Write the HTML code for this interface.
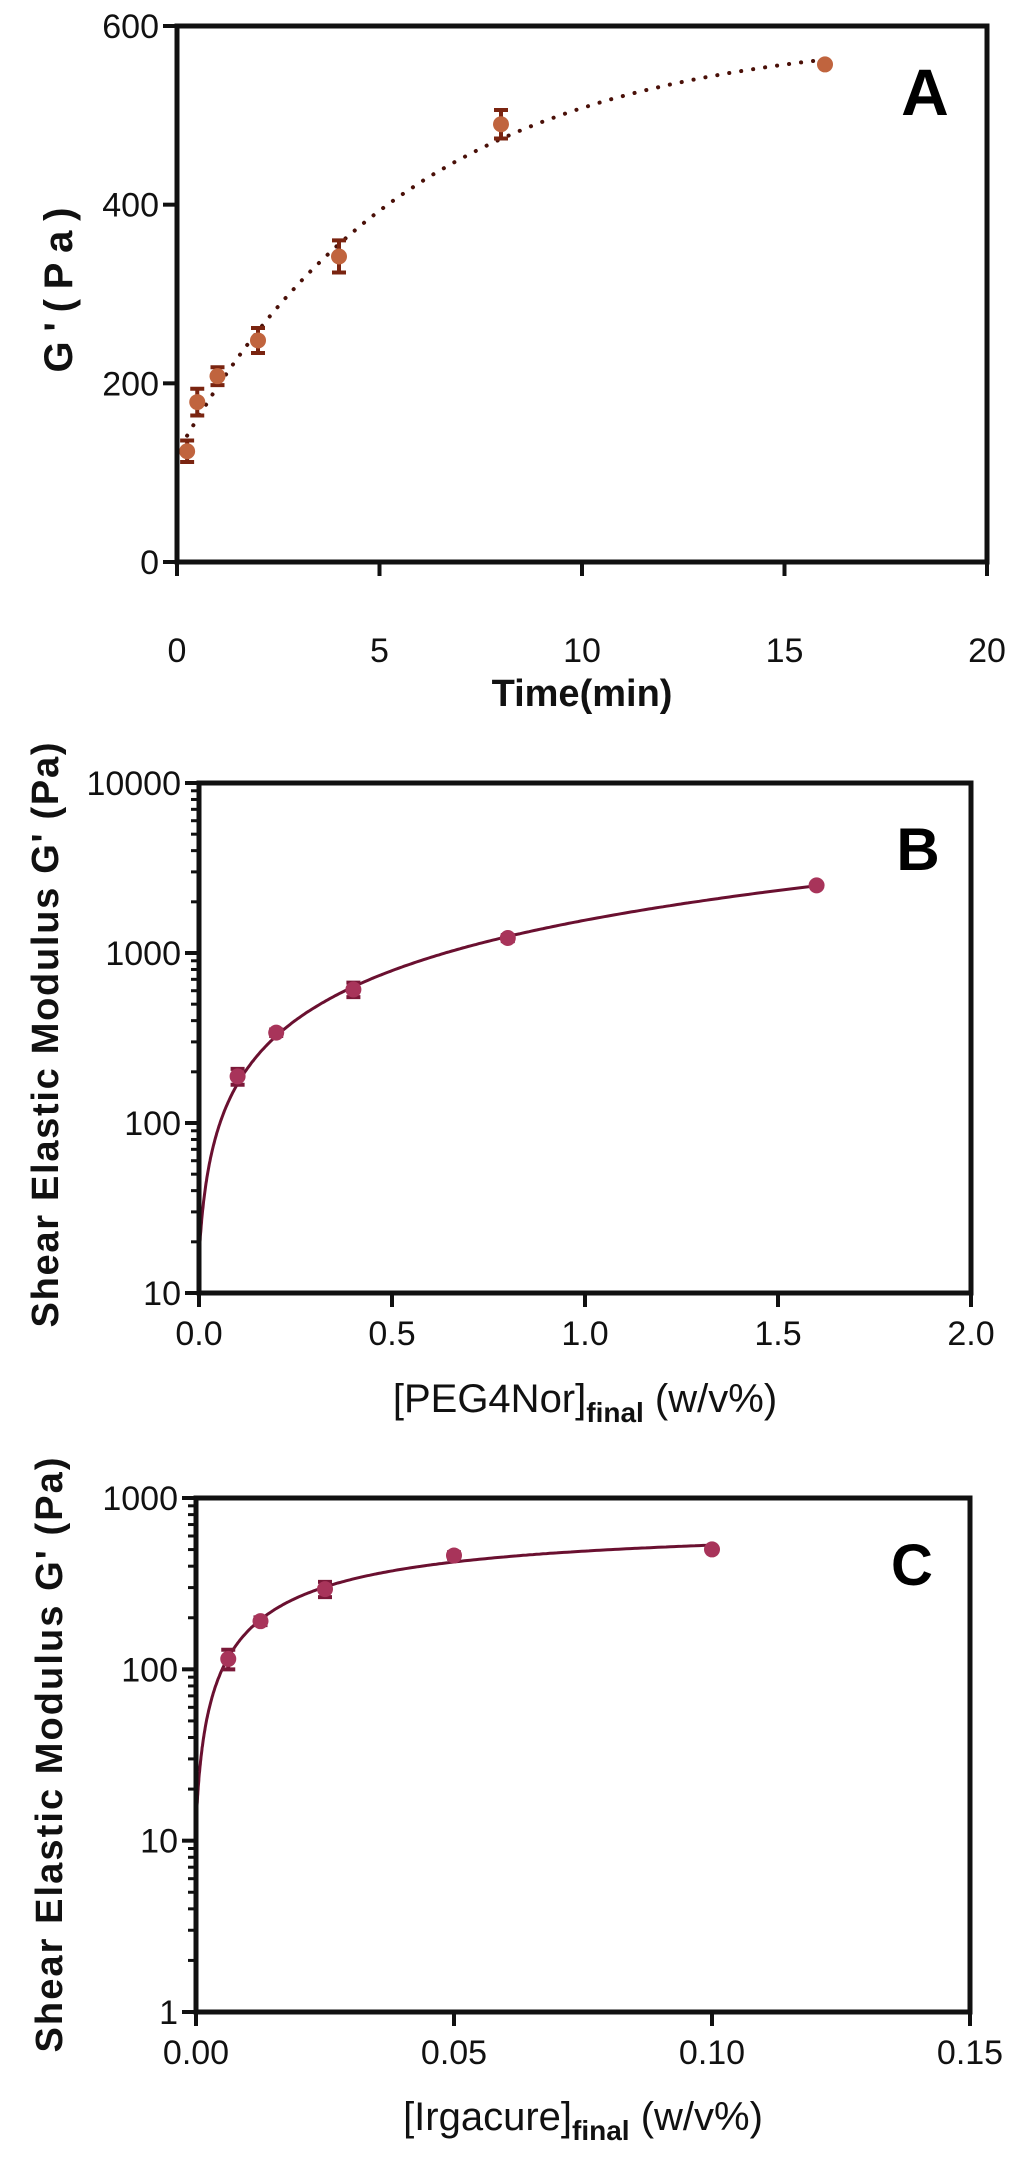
<!DOCTYPE html>
<html><head><meta charset="utf-8"><style>
html,body{margin:0;padding:0;background:#fff;}
svg{display:block;font-family:"Liberation Sans",Arial,sans-serif;}
</style></head><body>
<svg id="fig" width="1024" height="2158" viewBox="0 0 1024 2158" xmlns="http://www.w3.org/2000/svg"></svg>
<script>
// Panel A data
const aTimes = [0.25, 0.5, 1, 2, 4, 8, 16];
const aValues = [124, 179, 208, 248, 342, 490, 557];
const aErrors = [12, 15, 10, 14, 18, 16, 0];
const aXTicks = [0, 5, 10, 15, 20];
const aYTicks = [0, 200, 400, 600];
// Panel B data
const bConc = [0.1, 0.2, 0.4, 0.8, 1.6];
const bValues = [188, 340, 610, 1225, 2500];
const bErrors = [20, 15, 60, 50, 0];
const bXTicks = [0, 0.5, 1.0, 1.5, 2.0];
const bXLabels = ["0.0", "0.5", "1.0", "1.5", "2.0"];
const bYTicks = [10, 100, 1000, 10000];
// Panel C data
const cConc = [0.00625, 0.0125, 0.025, 0.05, 0.1];
const cValues = [115, 191, 294, 462, 501];
const cErrors = [15, 10, 30, 20, 0];
const cXTicks = [0, 0.05, 0.10, 0.15];
const cXLabels = ["0.00", "0.05", "0.10", "0.15"];
const cYTicks = [1, 10, 100, 1000];

const NS = "http://www.w3.org/2000/svg";
const svg = document.getElementById("fig");
function mk(tag, attrs, parent) {
  const e = document.createElementNS(NS, tag);
  for (const k in attrs) e.setAttribute(k, attrs[k]);
  (parent || svg).appendChild(e);
  return e;
}
function linScale(d0, d1, r0, r1) { return v => r0 + (v - d0) / (d1 - d0) * (r1 - r0); }
function logScale(d0, d1, r0, r1) { return v => r0 + (Math.log10(v) - Math.log10(d0)) / (Math.log10(d1) - Math.log10(d0)) * (r1 - r0); }

function frame(g, L, R, T, B, name) {
  const r = mk("rect", {x: L, y: T, width: R - L, height: B - T, fill: "none", stroke: "#111", "stroke-width": 5}, g);
  
  
}
function xTicks(g, vals, labels, sx, B, name, off) {
  vals.forEach((v, i) => {
    const x = sx(v);
    const t = mk("line", {x1: x, x2: x, y1: B, y2: B + 14, stroke: "#111", "stroke-width": 4}, g);
    
    
    const tx = mk("text", {x: x, y: B + off, "font-size": 34, "text-anchor": "middle", fill: "#111"}, g);
    tx.textContent = labels[i];
    
    
  });
}
function yTicks(g, vals, labels, sy, L, name, isLog) {
  vals.forEach((v, i) => {
    const y = sy(v);
    const t = mk("line", {x1: L - 14, x2: L, y1: y, y2: y, stroke: "#111", "stroke-width": 4}, g);
    
    
    const tx = mk("text", {x: L - 18, y: y + 12, "font-size": 34, "text-anchor": "end", fill: "#111"}, g);
    tx.textContent = labels[i];
    
    
    if (isLog && i < vals.length - 1) {
      for (let m = 2; m <= 9; m++) {
        const ym = sy(v * m);
        const mt = mk("line", {x1: L - 8, x2: L, y1: ym, y2: ym, stroke: "#111", "stroke-width": 3}, g);
        
        
      }
    }
  });
}
function points(g, xs, ys, es, sx, sy, fill, ecol, name) {
  xs.forEach((xv, i) => {
    const x = sx(xv), y = sy(ys[i]);
    if (es[i] > 0) {
      const y1 = sy(ys[i] + es[i]), y2 = sy(Math.max(ys[i] - es[i], 0.001));
      const eb = mk("path", {d: `M${x-7},${y1}H${x+7}M${x},${y1}V${y2}M${x-7},${y2}H${x+7}`, stroke: ecol, "stroke-width": 4, fill: "none"}, g);
      
      
    }
    const c = mk("circle", {cx: x, cy: y, r: 8, fill: fill}, g);
    
    
  });
}
function rotTitle(g, x, y, text, size, len, name) {
  const t = mk("text", {x: 0, y: 0, transform: `translate(${x},${y}) rotate(-90)`, "font-size": size, "font-weight": "bold", "text-anchor": "middle", fill: "#111", textLength: len, lengthAdjust: "spacing"}, g);
  t.textContent = text;
  
  
}

// ===== Panel A =====
(function(){
  const L = 177, R = 987, T = 26, B = 562;
  const g = mk("g", {});
  
  
  const sx = linScale(0, 20, L, R), sy = linScale(0, 600, B, T);
  let best = null;
  for (let k = 0.01; k < 1.5; k += 0.002) {
    const f = aTimes.map(t => 1 - Math.exp(-k * t));
    const n = f.length, sf = f.reduce((a,b)=>a+b,0), sy_ = aValues.reduce((a,b)=>a+b,0);
    const sff = f.reduce((a,b)=>a+b*b,0), sfy = f.reduce((a,b,i)=>a+b*aValues[i],0);
    const den = n*sff - sf*sf; if (Math.abs(den) < 1e-9) continue;
    const b = (n*sfy - sf*sy_)/den, a = (sy_ - b*sf)/n;
    const sse = f.reduce((acc,fv,i)=>acc+Math.pow(a+b*fv-aValues[i],2),0);
    if (!best || sse < best.sse) best = {k, a, b, sse};
  }
  let d = "";
  const t0 = aTimes[0], t1 = aTimes[aTimes.length-1];
  for (let i = 0; i <= 200; i++) {
    const t = t0 + (t1 - t0) * i / 200;
    const v = best.a + best.b * (1 - Math.exp(-best.k * t));
    d += (i ? "L" : "M") + sx(t).toFixed(1) + "," + sy(v).toFixed(1);
  }
  const fit = mk("path", {d, fill: "none", stroke: "#4a1008", "stroke-width": 4, "stroke-linecap": "round", "stroke-dasharray": "0.1 12"}, g);
  
  
  points(g, aTimes, aValues, aErrors, sx, sy, "#c0643e", "#7a2410", "panel-a");
  frame(g, L, R, T, B, "panel-a");
  xTicks(g, aXTicks, aXTicks.map(String), sx, B, "panel-a", 100);
  yTicks(g, aYTicks, aYTicks.map(String), sy, L, "panel-a", false);
  const xl = mk("text", {x: (L+R)/2, y: 706, "font-size": 38, "font-weight": "bold", "text-anchor": "middle", fill: "#111"}, g);
  xl.textContent = "Time(min)";
  
  
  rotTitle(g, 72, 290, "G'(Pa)", 40, 165, "panel-a-y-axis-title");
  const pl = mk("text", {x: 925, y: 115, "font-size": 66, "font-weight": "bold", "text-anchor": "middle", fill: "#000"}, g);
  pl.textContent = "A";
  
  
})();

// ===== Panel B =====
(function(){
  const L = 199, R = 971, T = 783, B = 1293;
  const g = mk("g", {});
  
  
  const sx = linScale(0, 2, L, R), sy = logScale(10, 10000, B, T);
  const n = bConc.length;
  const mx = bConc.reduce((a,b)=>a+b,0)/n, my = bValues.reduce((a,b)=>a+b,0)/n;
  const m = bConc.reduce((a,x,i)=>a+(x-mx)*(bValues[i]-my),0)/bConc.reduce((a,x)=>a+(x-mx)*(x-mx),0);
  const c = Math.max(my - m*mx, 10.5);
  let d = "";
  const x1 = bConc[n-1];
  for (let i = 0; i <= 300; i++) {
    const x = x1 * Math.pow(i/300, 2);
    const v = Math.max(c + m * x, 10);
    d += (i ? "L" : "M") + sx(x).toFixed(1) + "," + sy(v).toFixed(1);
  }
  const fit = mk("path", {d, fill: "none", stroke: "#6a1030", "stroke-width": 3}, g);
  
  
  points(g, bConc, bValues, bErrors, sx, sy, "#a8345a", "#7a1838", "panel-b");
  frame(g, L, R, T, B, "panel-b");
  xTicks(g, bXTicks, bXLabels, sx, B, "panel-b", 52);
  yTicks(g, bYTicks, bYTicks.map(String), sy, L, "panel-b", true);
  const xl = mk("text", {x: (L+R)/2, y: 1412, "font-size": 40, "text-anchor": "middle", fill: "#111"}, g);
  xl.innerHTML = '[PEG4Nor]<tspan font-size="28" font-weight="bold" dy="10">final</tspan><tspan dy="-10"> (w/v%)</tspan>';
  
  
  rotTitle(g, 58, 1035, "Shear Elastic Modulus G' (Pa)", 38, 585, "panel-b-y-axis-title");
  const pl = mk("text", {x: 918, y: 870, "font-size": 60, "font-weight": "bold", "text-anchor": "middle", fill: "#000"}, g);
  pl.textContent = "B";
  
  
})();

// ===== Panel C =====
(function(){
  const L = 196, R = 970, T = 1498, B = 2012;
  const g = mk("g", {});
  
  
  const sx = linScale(0, 0.15, L, R), sy = logScale(1, 1000, B, T);
  let best = null;
  for (let K = 0.001; K < 0.2; K += 0.0005) {
    const f = cConc.map(x => x/(K+x));
    const gm = f.reduce((a,fv,i)=>a+fv*(cValues[i]-10),0)/f.reduce((a,fv)=>a+fv*fv,0);
    const sse = f.reduce((a,fv,i)=>a+Math.pow(Math.log(10+gm*fv)-Math.log(cValues[i]),2),0);
    if (!best || sse < best.sse) best = {K, gm, sse};
  }
  let d = "";
  const x1 = cConc[cConc.length-1];
  for (let i = 0; i <= 300; i++) {
    const x = x1 * Math.pow(i/300, 2.5);
    const v = 12 + best.gm * x/(best.K + x);
    d += (i ? "L" : "M") + sx(x).toFixed(1) + "," + sy(v).toFixed(1);
  }
  const fit = mk("path", {d, fill: "none", stroke: "#6a1030", "stroke-width": 3}, g);
  
  
  points(g, cConc, cValues, cErrors, sx, sy, "#a8345a", "#7a1838", "panel-c");
  frame(g, L, R, T, B, "panel-c");
  xTicks(g, cXTicks, cXLabels, sx, B, "panel-c", 52);
  yTicks(g, cYTicks, cYTicks.map(String), sy, L, "panel-c", true);
  const xl = mk("text", {x: (L+R)/2, y: 2130, "font-size": 40, "text-anchor": "middle", fill: "#111"}, g);
  xl.innerHTML = '[Irgacure]<tspan font-size="28" font-weight="bold" dy="10">final</tspan><tspan dy="-10"> (w/v%)</tspan>';
  
  
  rotTitle(g, 62, 1755, "Shear Elastic Modulus G' (Pa)", 38, 595, "panel-c-y-axis-title");
  const pl = mk("text", {x: 912, y: 1585, "font-size": 58, "font-weight": "bold", "text-anchor": "middle", fill: "#000"}, g);
  pl.textContent = "C";
  
  
})();
</script>
</body></html>
